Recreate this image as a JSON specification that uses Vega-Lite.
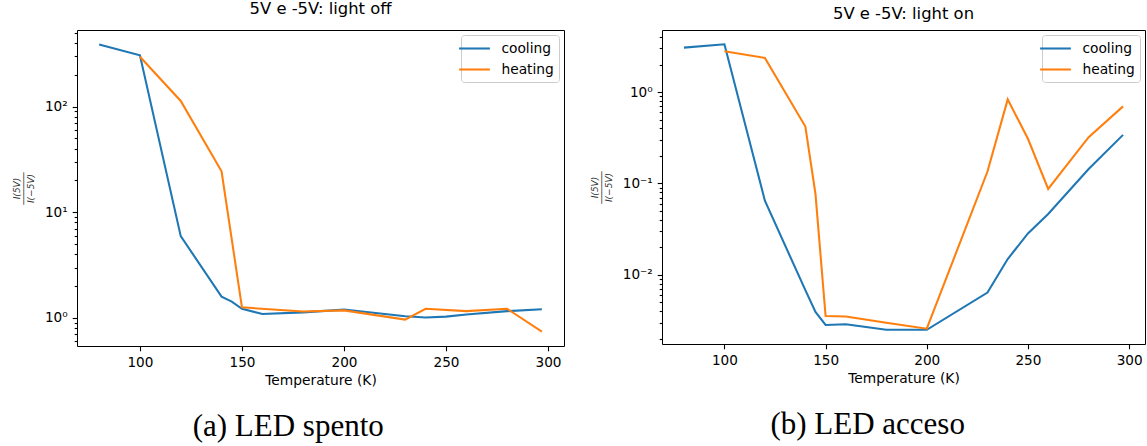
{
  "$schema": "https://vega.github.io/schema/vega-lite/v6.json",
  "padding": {"left": 11, "top": 0, "right": 3, "bottom": 4},
  "spacing": 24,
  "config": {
    "view": {"stroke": "#000", "strokeWidth": 1},
    "axis": {"domain": false, "grid": false, "tickColor": "#000", "tickWidth": 1.1, "labelColor": "#000", "labelFont": "DejaVu Sans", "labelFontSize": 13.6, "titleFont": "DejaVu Sans", "titleFontSize": 13.8, "titleFontWeight": "normal", "titleColor": "#000", "labelPadding": 5},
    "title": {"font": "DejaVu Sans", "fontSize": 16.4, "fontWeight": "normal", "color": "#000", "offset": 8},
    "legend": {"orient": "top-right", "offset": 5, "fillColor": "#ffffff", "strokeColor": "#cccccc", "cornerRadius": 3, "padding": 5, "symbolType": "M-2.2,0H2.2", "symbolStrokeWidth": 2.07, "symbolSize": 196, "labelFont": "DejaVu Sans", "labelFontSize": 13.8, "labelColor": "#000", "labelOffset": 18.4, "rowPadding": 5}
  },
  "datasets": {
    "off": [
      {"T": 80, "ratio": 387, "series": "cooling"},
      {"T": 100, "ratio": 305, "series": "cooling"},
      {"T": 120, "ratio": 5.94, "series": "cooling"},
      {"T": 140, "ratio": 1.59, "series": "cooling"},
      {"T": 145, "ratio": 1.43, "series": "cooling"},
      {"T": 150, "ratio": 1.22, "series": "cooling"},
      {"T": 160, "ratio": 1.09, "series": "cooling"},
      {"T": 180, "ratio": 1.13, "series": "cooling"},
      {"T": 200, "ratio": 1.2, "series": "cooling"},
      {"T": 230, "ratio": 1.04, "series": "cooling"},
      {"T": 240, "ratio": 1.01, "series": "cooling"},
      {"T": 250, "ratio": 1.03, "series": "cooling"},
      {"T": 260, "ratio": 1.08, "series": "cooling"},
      {"T": 280, "ratio": 1.16, "series": "cooling"},
      {"T": 297, "ratio": 1.21, "series": "cooling"},
      {"T": 100, "ratio": 296, "series": "heating"},
      {"T": 120, "ratio": 113, "series": "heating"},
      {"T": 140, "ratio": 24.4, "series": "heating"},
      {"T": 150, "ratio": 1.26, "series": "heating"},
      {"T": 180, "ratio": 1.15, "series": "heating"},
      {"T": 200, "ratio": 1.18, "series": "heating"},
      {"T": 230, "ratio": 0.964, "series": "heating"},
      {"T": 240, "ratio": 1.22, "series": "heating"},
      {"T": 260, "ratio": 1.16, "series": "heating"},
      {"T": 280, "ratio": 1.22, "series": "heating"},
      {"T": 297, "ratio": 0.743, "series": "heating"}
    ],
    "on": [
      {"T": 80, "ratio": 3.06, "series": "cooling"},
      {"T": 100, "ratio": 3.33, "series": "cooling"},
      {"T": 120, "ratio": 0.0648, "series": "cooling"},
      {"T": 140, "ratio": 0.0068, "series": "cooling"},
      {"T": 145, "ratio": 0.00393, "series": "cooling"},
      {"T": 150, "ratio": 0.00283, "series": "cooling"},
      {"T": 160, "ratio": 0.00288, "series": "cooling"},
      {"T": 180, "ratio": 0.00251, "series": "cooling"},
      {"T": 200, "ratio": 0.00251, "series": "cooling"},
      {"T": 230, "ratio": 0.0064, "series": "cooling"},
      {"T": 240, "ratio": 0.0149, "series": "cooling"},
      {"T": 250, "ratio": 0.0284, "series": "cooling"},
      {"T": 260, "ratio": 0.0463, "series": "cooling"},
      {"T": 280, "ratio": 0.144, "series": "cooling"},
      {"T": 297, "ratio": 0.34, "series": "cooling"},
      {"T": 100, "ratio": 2.79, "series": "heating"},
      {"T": 120, "ratio": 2.36, "series": "heating"},
      {"T": 140, "ratio": 0.42, "series": "heating"},
      {"T": 145, "ratio": 0.0767, "series": "heating"},
      {"T": 150, "ratio": 0.00355, "series": "heating"},
      {"T": 160, "ratio": 0.0035, "series": "heating"},
      {"T": 180, "ratio": 0.003, "series": "heating"},
      {"T": 200, "ratio": 0.00258, "series": "heating"},
      {"T": 230, "ratio": 0.135, "series": "heating"},
      {"T": 240, "ratio": 0.831, "series": "heating"},
      {"T": 250, "ratio": 0.308, "series": "heating"},
      {"T": 260, "ratio": 0.087, "series": "heating"},
      {"T": 280, "ratio": 0.321, "series": "heating"},
      {"T": 297, "ratio": 0.697, "series": "heating"}
    ]
  },
  "resolve": {"scale": {"x": "independent", "y": "independent", "color": "independent"}, "legend": {"color": "independent"}},
  "hconcat": [
    {
      "title": {"text": "(a) LED spento", "orient": "bottom", "font": "Liberation Serif", "fontSize": 31, "fontWeight": "normal", "offset": 24, "anchor": "middle"},
      "resolve": {"scale": {"x": "independent", "y": "independent", "color": "independent"}, "legend": {"color": "independent"}},
      "vconcat": [
        {
          "width": 487, "height": 316,
          "title": {"text": "5V e -5V: light off"},
          "data": {"name": "off"},
          "mark": {"type": "line", "strokeWidth": 2.07, "clip": true},
          "encoding": {
            "x": {"field": "T", "type": "quantitative", "scale": {"domain": [69.15, 307.85], "nice": false, "zero": false},
                  "axis": {"title": "Temperature (K)", "values": [100, 150, 200, 250, 300], "tickSize": 4.8, "titlePadding": 4}},
            "y": {"field": "ratio", "type": "quantitative", "scale": {"type": "log", "domain": [0.543, 529.7], "nice": false},
                  "axis": {"title": ["I(5V)", "──────", "I(−5V)"], "titleFontSize": 9, "titleFontStyle": "italic", "titleLineHeight": 7, "titlePadding": 9, "titleColor": "#333",
                           "values": [0.6, 0.7, 0.8, 0.9, 1, 2, 3, 4, 5, 6, 7, 8, 9, 10, 20, 30, 40, 50, 60, 70, 80, 90, 100, 200, 300, 400, 500],
                           "labelExpr": "datum.value == 1 ? '10⁰' : datum.value == 10 ? '10¹' : datum.value == 100 ? '10²' : ''",
                           "labelOverlap": false, "labelBound": false, "labelFlush": false,
                           "tickSize": {"condition": {"test": "datum.value == 1 || datum.value == 10 || datum.value == 100", "value": 4.8}, "value": 2.8}}},
            "color": {"field": "series", "type": "nominal", "scale": {"domain": ["cooling", "heating"], "range": ["#1f77b4", "#ff7f0e"]}, "legend": {"title": null}}
          }
        }
      ]
    },
    {
      "title": {"text": "(b) LED acceso", "orient": "bottom", "font": "Liberation Serif", "fontSize": 31, "fontWeight": "normal", "offset": 24, "anchor": "middle"},
      "resolve": {"scale": {"x": "independent", "y": "independent", "color": "independent"}, "legend": {"color": "independent"}},
      "vconcat": [
        {
          "width": 483, "height": 314,
          "title": {"text": "5V e -5V: light on"},
          "data": {"name": "on"},
          "mark": {"type": "line", "strokeWidth": 2.07, "clip": true},
          "encoding": {
            "x": {"field": "T", "type": "quantitative", "scale": {"domain": [69.15, 307.85], "nice": false, "zero": false},
                  "axis": {"title": "Temperature (K)", "values": [100, 150, 200, 250, 300], "tickSize": 4.8, "titlePadding": 4}},
            "y": {"field": "ratio", "type": "quantitative", "scale": {"type": "log", "domain": [0.001754, 4.77], "nice": false},
                  "axis": {"title": ["I(5V)", "──────", "I(−5V)"], "titleFontSize": 9, "titleFontStyle": "italic", "titleLineHeight": 7, "titlePadding": 9, "titleColor": "#333",
                           "values": [0.002, 0.003, 0.004, 0.005, 0.006, 0.007, 0.008, 0.009, 0.01, 0.02, 0.03, 0.04, 0.05, 0.06, 0.07, 0.08, 0.09, 0.1, 0.2, 0.3, 0.4, 0.5, 0.6, 0.7, 0.8, 0.9, 1, 2, 3, 4],
                           "labelExpr": "datum.value == 1 ? '10⁰' : datum.value == 0.1 ? '10⁻¹' : datum.value == 0.01 ? '10⁻²' : ''",
                           "labelOverlap": false, "labelBound": false, "labelFlush": false,
                           "tickSize": {"condition": {"test": "datum.value == 1 || datum.value == 0.1 || datum.value == 0.01", "value": 4.8}, "value": 2.8}}},
            "color": {"field": "series", "type": "nominal", "scale": {"domain": ["cooling", "heating"], "range": ["#1f77b4", "#ff7f0e"]}, "legend": {"title": null}}
          }
        }
      ]
    }
  ]
}
